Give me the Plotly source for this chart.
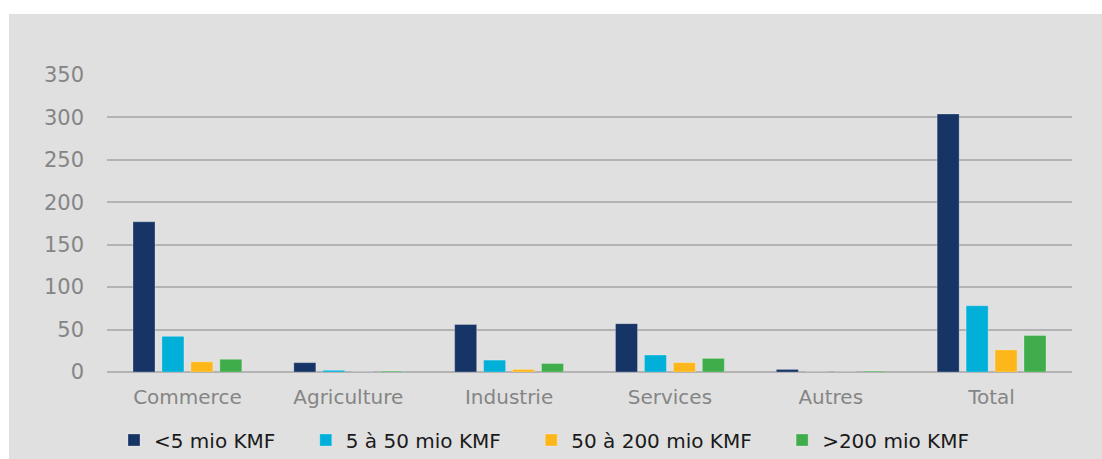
import plotly.graph_objects as go

# Entreprises par secteur et par tranche de chiffre d'affaires
categories = ["Commerce", "Agriculture", "Industrie", "Services", "Autres", "Total"]
series_names = ["<5 mio KMF", "5 à 50 mio KMF", "50 à 200 mio KMF", ">200 mio KMF"]
lt5 = [177, 11, 56, 57, 3, 304]
from5to50 = [42, 2, 14, 20, 0, 78]
from50to200 = [12, 0, 3, 11, 0, 26]
gt200 = [15, 1, 10, 16, 1, 43]
y_ticks = [0, 50, 100, 150, 200, 250, 300, 350]

colors = ["#173466", "#00b0d8", "#fdb71a", "#3fae4a"]
values = [lt5, from5to50, from50to200, gt200]

BG = "#e0e0e0"
W, H = 1102, 459
ML, MR, MT, MB = 107, 30, 75, 87
pw, ph = W - ML - MR, H - MT - MB
PAD = "\u00a0" * 4  # spacing after each legend label

fig = go.Figure()
for name, vals, col in zip(series_names, values, colors):
    fig.add_trace(go.Bar(
        x=categories, y=vals, name=name + PAD,
        marker=dict(color=col, line=dict(color="rgba(255,255,255,0.25)", width=1)),
    ))

# grey card inset from the top-left corner of the page
fig.add_shape(
    type="rect", xref="paper", yref="paper", layer="below",
    x0=(9 - ML) / pw, x1=(W - ML) / pw,
    y0=-(H - (MT + ph)) / ph, y1=(H - 14 - MB) / ph,
    fillcolor=BG, line=dict(width=0),
)

fig.update_layout(
    width=W, height=H,
    margin=dict(l=ML, r=MR, t=MT, b=MB, pad=0, autoexpand=False),
    paper_bgcolor="white", plot_bgcolor=BG,
    barmode="group", bargap=0.28, bargroupgap=0.24,
    showlegend=True,
    legend=dict(
        orientation="h", xref="container", x=114 / W, xanchor="left",
        yref="container", y=1 - 440 / H, yanchor="middle",
        font=dict(family="DejaVu Sans", size=20, color="#1a1a1a"),
        bgcolor="rgba(0,0,0,0)", traceorder="normal",
    ),
    font=dict(family="DejaVu Sans"),
)
fig.update_xaxes(
    showgrid=False, showline=False, zeroline=False, ticks="",
    tickfont=dict(family="DejaVu Sans", size=20, color="#858585"),
    ticklabelstandoff=11,
)
fig.update_yaxes(
    range=[0, 350], tickvals=y_ticks, ticktext=[str(v) for v in y_ticks],
    showgrid=True, gridcolor="#b3b3b3", gridwidth=1.5,
    zeroline=True, zerolinecolor="#b3b3b3", zerolinewidth=2,
    showline=False, ticks="",
    tickfont=dict(family="DejaVu Sans", size=21, color="#858585"),
    ticklabelstandoff=22,
)

fig.write_html("out.html")
